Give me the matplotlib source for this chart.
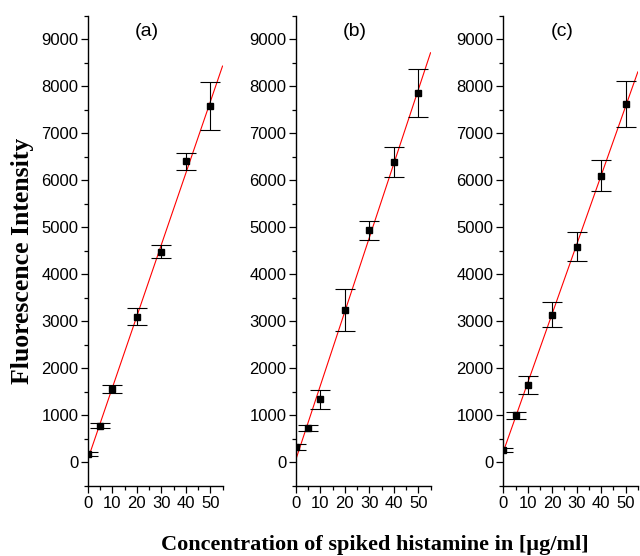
import numpy as np
import matplotlib
matplotlib.use("Agg")
import matplotlib.pyplot as plt
from matplotlib.ticker import MultipleLocator

# spiked histamine concentration (ug/ml)
conc = [0, 5, 10, 20, 30, 40, 50]

# mean fluorescence intensity and error for each panel
int_a = [178, 780, 1560, 3100, 4480, 6400, 7580]
err_a = [40, 50, 90, 175, 140, 185, 520]
int_b = [330, 735, 1346, 3243, 4940, 6394, 7860]
err_b = [65, 65, 200, 455, 200, 320, 515]
int_c = [270, 999, 1650, 3137, 4588, 6096, 7619]
err_c = [40, 80, 190, 265, 305, 325, 485]

panel_labels = ["(a)", "(b)", "(c)"]
series = [(int_a, err_a), (int_b, err_b), (int_c, err_c)]

fig = plt.figure(figsize=(6.4, 5.56), dpi=100)
lefts = [0.1375, 0.4625, 0.7864]

for left, label, (yv, ye) in zip(lefts, panel_labels, series):
    ax = fig.add_axes([left, 0.1259, 0.2102, 0.8459])
    x = np.array(conc)
    y = np.array(yv)

    # linear fit
    k, b = np.polyfit(x, y, 1)
    xf = np.array([0, 55])
    ax.plot(xf, k * xf + b, color="red", lw=0.8, zorder=2)

    ax.errorbar(x, y, yerr=ye, fmt="s", color="black", ms=4, ecolor="black",
                elinewidth=0.8, capsize=7, capthick=0.8, zorder=3)

    ax.set_xlim(0, 55)
    ax.set_ylim(-500, 9500)
    ax.xaxis.set_major_locator(MultipleLocator(10))
    ax.xaxis.set_minor_locator(MultipleLocator(5))
    ax.yaxis.set_major_locator(MultipleLocator(1000))
    ax.yaxis.set_minor_locator(MultipleLocator(500))

    for s in ["top", "right"]:
        ax.spines[s].set_visible(False)
    for s in ["left", "bottom"]:
        ax.spines[s].set_linewidth(1.0)
        ax.spines[s].set_zorder(4)

    ax.tick_params(which="major", direction="out", length=5, width=0.9,
                   labelsize=12, pad=2)
    ax.tick_params(which="minor", direction="out", length=3, width=0.9)
    for t in ax.get_xticklabels() + ax.get_yticklabels():
        t.set_fontfamily("Liberation Sans")

    ax.text(24, 9170, label, ha="center", va="center", fontsize=14,
            family="Liberation Sans")

fig.text(0.035, 0.53, "Fluorescence Intensity", rotation=90, ha="center",
         va="center", fontsize=18.5, fontweight="bold", family="Liberation Serif")
fig.text(0.585, 0.02, "Concentration of spiked histamine in [\u00b5g/ml]",
         ha="center", va="center", fontsize=16, fontweight="bold",
         family="Liberation Serif")

fig.savefig("out.png", dpi=100)
